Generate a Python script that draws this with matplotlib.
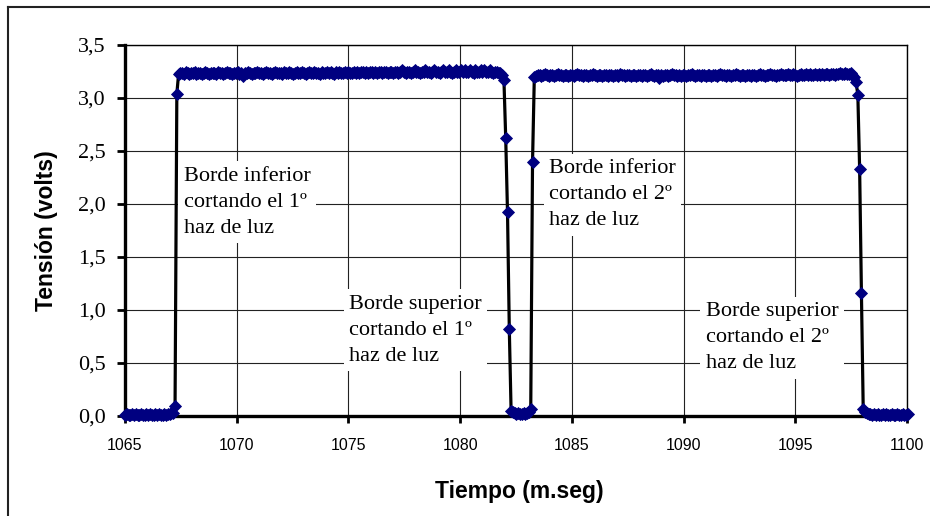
import matplotlib
matplotlib.use("Agg")
import matplotlib.pyplot as plt
import numpy as np
from matplotlib.lines import Line2D
from matplotlib.ticker import FuncFormatter

# sample period of the recording (ms)
sample_ms = 0.08

low_1 = [0.01, 0.02, 0.01, 0.01, 0.02, 0.01, 0.02, 0.01, 0.01, 0.02, 0.01, 0.01, 0.02, 0.01,
         0.02, 0.01, 0.01, 0.02, 0.01, 0.02, 0.01, 0.01, 0.02, 0.01, 0.02, 0.02, 0.03, 0.03]
rise_1 = [0.09, 3.04]
high_1 = [
    3.23, 3.24, 3.24, 3.23, 3.25, 3.24, 3.23, 3.24, 3.24, 3.25, 3.23, 3.24, 3.24, 3.23, 3.24, 3.25, 3.24, 3.23, 3.24, 3.24,
    3.24, 3.23, 3.25, 3.24, 3.24, 3.23, 3.24, 3.25, 3.24, 3.24, 3.23, 3.24, 3.24, 3.25, 3.23, 3.24, 3.21, 3.24, 3.24, 3.25,
    3.24, 3.23, 3.24, 3.24, 3.25, 3.24, 3.24, 3.23, 3.24, 3.25, 3.24, 3.24, 3.23, 3.24, 3.25, 3.24, 3.24, 3.24, 3.23, 3.25,
    3.24, 3.24, 3.25, 3.24, 3.23, 3.24, 3.25, 3.24, 3.24, 3.25, 3.24, 3.23, 3.24, 3.25, 3.24, 3.24, 3.25, 3.24, 3.24, 3.23,
    3.25, 3.24, 3.24, 3.25, 3.24, 3.25, 3.24, 3.23, 3.25, 3.24, 3.25, 3.24, 3.24, 3.25, 3.24, 3.25, 3.24, 3.24, 3.25, 3.24,
    3.25, 3.24, 3.25, 3.25, 3.24, 3.25, 3.24, 3.25, 3.25, 3.24, 3.25, 3.24, 3.25, 3.25, 3.24, 3.25, 3.25, 3.24, 3.25, 3.25,
    3.24, 3.25, 3.25, 3.24, 3.25, 3.26, 3.25, 3.24, 3.25, 3.25, 3.24, 3.25, 3.26, 3.25, 3.25, 3.24, 3.25, 3.25, 3.26, 3.25,
    3.25, 3.24, 3.25, 3.26, 3.25, 3.25, 3.24, 3.25, 3.26, 3.25, 3.25, 3.26, 3.25, 3.24, 3.25, 3.26, 3.25, 3.25, 3.26, 3.25,
    3.26, 3.25, 3.25, 3.26, 3.25, 3.24, 3.26, 3.25, 3.25, 3.26, 3.25, 3.26, 3.25, 3.25, 3.26, 3.25, 3.24, 3.25, 3.25, 3.24,
    3.24, 3.22,
]
fall_1 = [3.17, 2.62, 1.92, 0.82, 0.05]
low_2 = [0.04, 0.03, 0.02, 0.03, 0.02, 0.02, 0.03, 0.02, 0.03, 0.04]
rise_2 = [0.07, 2.40, 3.20]
high_2 = [
    3.21, 3.22, 3.22, 3.21, 3.22, 3.23, 3.22, 3.21, 3.22, 3.22, 3.21, 3.22, 3.23, 3.22, 3.22, 3.21, 3.22, 3.22, 3.21, 3.22,
    3.22, 3.21, 3.22, 3.23, 3.22, 3.22, 3.21, 3.22, 3.22, 3.21, 3.22, 3.22, 3.23, 3.22, 3.21, 3.22, 3.22, 3.21, 3.22, 3.22,
    3.21, 3.22, 3.22, 3.21, 3.22, 3.22, 3.21, 3.23, 3.22, 3.22, 3.21, 3.22, 3.22, 3.21, 3.22, 3.22, 3.21, 3.22, 3.22, 3.21,
    3.22, 3.22, 3.21, 3.22, 3.23, 3.22, 3.21, 3.22, 3.22, 3.19, 3.22, 3.21, 3.22, 3.22, 3.21, 3.22, 3.23, 3.22, 3.22, 3.21,
    3.22, 3.21, 3.22, 3.22, 3.21, 3.22, 3.22, 3.23, 3.22, 3.21, 3.22, 3.22, 3.21, 3.22, 3.22, 3.21, 3.22, 3.22, 3.21, 3.22,
    3.22, 3.21, 3.22, 3.23, 3.22, 3.22, 3.21, 3.22, 3.22, 3.21, 3.22, 3.22, 3.23, 3.22, 3.21, 3.22, 3.22, 3.21, 3.22, 3.22,
    3.21, 3.22, 3.22, 3.21, 3.22, 3.23, 3.22, 3.22, 3.21, 3.22, 3.22, 3.23, 3.22, 3.22, 3.21, 3.22, 3.22, 3.23, 3.22, 3.22,
    3.22, 3.23, 3.22, 3.22, 3.23, 3.22, 3.21, 3.22, 3.23, 3.22, 3.22, 3.23, 3.22, 3.23, 3.22, 3.22, 3.23, 3.22, 3.23, 3.22,
    3.23, 3.22, 3.23, 3.23, 3.22, 3.23, 3.23, 3.22, 3.23, 3.23, 3.24, 3.23, 3.23, 3.24, 3.23, 3.23, 3.24, 3.22, 3.20,
]
fall_2 = [3.15, 3.03, 2.33, 1.16, 0.07]
low_3 = [0.04, 0.03, 0.02, 0.02, 0.01, 0.02, 0.01, 0.02, 0.01, 0.01, 0.02, 0.01, 0.02, 0.01,
         0.01, 0.02, 0.01, 0.01, 0.02, 0.01, 0.01, 0.02, 0.01, 0.01, 0.02]

# start time (ms) of each recorded stretch
segments = [
    (1065.00, low_1), (1067.24, rise_1), (1067.40, high_1), (1081.96, fall_1),
    (1082.36, low_2), (1083.16, rise_2), (1083.40, high_2), (1097.72, fall_2),
    (1098.12, low_3),
]

# (x, baseline of last line, text)
notes = [
    (1067.64, 1.73, "Borde inferior\ncortando el 1º\nhaz de luz"),
    (1075.03, 0.52, "Borde superior\ncortando el 1º\nhaz de luz"),
    (1083.98, 1.80, "Borde inferior\ncortando el 2º\nhaz de luz"),
    (1091.00, 0.45, "Borde superior\ncortando el 2º\nhaz de luz"),
]

t = np.concatenate([start + sample_ms * np.arange(len(vals)) for start, vals in segments])
v = np.concatenate([np.asarray(vals, dtype=float) for _, vals in segments])

W, H = 930, 516
fig = plt.figure(figsize=(W / 100, H / 100), dpi=100)
ax = fig.add_axes([125 / W, 1 - 416 / H, (907 - 125) / W, (416 - 45) / H])

# outer chart frame (only left and top edges fall inside the picture)
fig.add_artist(Line2D([8 / W, 8 / W], [0, 1 - 7 / H], transform=fig.transFigure, color="#222222", lw=1.5))
fig.add_artist(Line2D([8 / W, 1], [1 - 7 / H, 1 - 7 / H], transform=fig.transFigure, color="#222222", lw=1.5))

ax.plot(t, v, color="black", lw=2.3, marker="D", ms=6.3, mfc="#000080", mec="#000080",
        mew=0.6, clip_on=False, zorder=5)

for x, y, txt in notes:
    ax.text(x, y, txt, ha="left", va="baseline", family="Liberation Serif", fontsize=16,
            linespacing=1.5, zorder=3,
            bbox=dict(facecolor="white", edgecolor="none", boxstyle="square,pad=0.25"))

ax.set_xlim(1065, 1100)
ax.set_ylim(0, 3.5)
ax.set_xticks(np.arange(1065, 1101, 5))
ax.set_yticks(np.arange(0, 3.51, 0.5))
ax.yaxis.set_major_formatter(FuncFormatter(lambda y, _: f"{y:.1f}".replace(".", ",")))
ax.grid(True, color="#222222", lw=0.8)
ax.set_axisbelow(True)

for side in ("left", "bottom"):
    ax.spines[side].set_linewidth(2.4)
for side in ("top", "right"):
    ax.spines[side].set_linewidth(1.0)

ax.tick_params(axis="y", direction="out", length=6, width=2, pad=8, labelsize=16)
ax.tick_params(axis="x", direction="out", length=5, width=2, pad=11, labelsize=11.5)
for lab in ax.get_yticklabels():
    lab.set_family("Liberation Serif")
for lab in ax.get_xticklabels():
    lab.set_family("Liberation Sans")

ax.set_xlabel("Tiempo (m.seg)", family="Liberation Sans", fontsize=16.5, fontweight="bold")
ax.set_ylabel("Tensión (volts)", family="Liberation Sans", fontsize=16.5, fontweight="bold")
ax.xaxis.set_label_coords(0.504, -0.172)
ax.yaxis.set_label_coords(-0.086, 0.5)

fig.savefig("out.png", dpi=100)
